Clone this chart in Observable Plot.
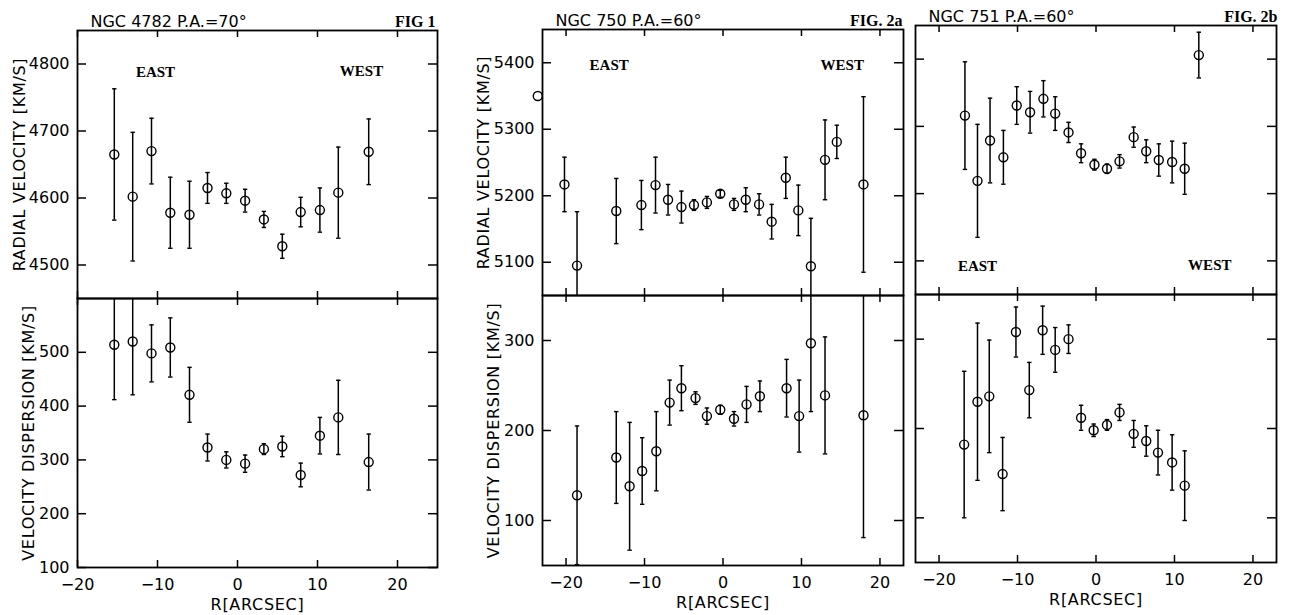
<!DOCTYPE html>
<html><head><meta charset="utf-8">
<script src="https://cdn.jsdelivr.net/npm/d3@7"></script>
<script src="https://cdn.jsdelivr.net/npm/@observablehq/plot@0.6"></script>
<style>
html,body{margin:0;padding:0;background:#fff;}
#chart{position:relative;width:1293px;height:615px;background:#fff;}
#chart svg{position:absolute;left:0;top:0;}
g[aria-label="y-axis label"] text, g[aria-label="x-axis label"] text{letter-spacing:0.7px;}
</style></head><body><div id="chart"></div>
<script>
// ---------- data: NGC 4782 ----------
const r4782 = [-15.4,-13.1,-10.75,-8.4,-6.0,-3.75,-1.4,0.95,3.3,5.6,7.9,10.3,12.6,16.4];
const vel4782 = [4665,4602,4670,4578,4575,4615,4607,4596,4568,4528,4579,4582,4608,4669];
const velErr4782 = [98,96,49,53,50,23,15,17,12,18,22,33,68,49];
const disp4782 = [514,520,498,509,421,323,300,293,320,325,272,345,379,296];
const dispErr4782 = [102,99,53,55,51,25,15,16,10,19,22,34,69,52];
// ---------- data: NGC 750 ----------
const rVel750 = [-20.2,-18.6,-13.6,-10.4,-8.6,-7.0,-5.3,-3.7,-2.05,-0.35,1.4,2.9,4.6,6.2,8.0,9.6,11.2,13.0,14.5,17.9];
const vel750 = [5217,5095,5177,5186,5216,5194,5183,5186,5190,5203,5187,5194,5187,5161,5227,5178,5094,5254,5281,5217];
const velErr750 = [41,81,49,37,42,23,24,8,9,5,9,18,16,26,31,38,72,60,25,132];
const strayR750 = [-23.6];
const strayV750 = [5350];
const rDisp750 = [-18.6,-13.6,-11.9,-10.3,-8.5,-6.8,-5.3,-3.5,-2.05,-0.35,1.4,3.0,4.7,8.1,9.7,11.2,13.0,17.9];
const disp750 = [128,170,138,155,177,231,247,236,216,223,213,229,238,247,216,297,239,217];
const dispErr750 = [77,51,71,37,44,25,25,7,9,5,8,20,17,32,40,76,65,136];
// ---------- data: NGC 751 ----------
const rVel751 = [-16.7,-15.1,-13.5,-11.8,-10.1,-8.4,-6.7,-5.2,-3.5,-1.9,-0.2,1.4,3.0,4.8,6.4,8.0,9.7,11.3,13.1];
const vel751 = [5316,5219,5279,5254,5331,5321,5341,5319,5291,5260,5243,5237,5248,5284,5263,5250,5247,5237,5406];
const velErr751 = [80,84,63,40,28,31,27,25,15,14,8,7,10,15,17,24,31,38,34];
const rDisp751 = [-16.8,-15.1,-13.6,-11.9,-10.2,-8.5,-6.8,-5.2,-3.5,-1.9,-0.3,1.4,3.0,4.8,6.4,7.9,9.7,11.3];
const disp751 = [182,230,236,149,308,243,310,288,300,212,198,204,218,194,186,173,162,136];
const dispErr751 = [82,88,63,41,28,31,27,25,16,14,7,6,9,15,17,25,31,39];
// ---------- ticks & labels ----------
const xTicks = [-20,-10,0,10,20];
const velTicks4782 = [4500,4600,4700,4800];
const dispTicks4782 = [100,200,300,400,500];
const velTicks75x = [5100,5200,5300,5400];
const dispTicks75x = [100,200,300];
const notes4782 = [{label:"EAST", r:-10.25, v:4788},{label:"WEST", r:15.5, v:4790}];
const notes750 = [{label:"EAST", r:-14.5, v:5397},{label:"WEST", r:15.2, v:5397}];
const notes751 = [{label:"EAST", r:-15.1, v:5092},{label:"WEST", r:14.5, v:5093}];

const rows = (rs, vs, es) => rs.map((r, i) => ({r, v: vs[i], e: es ? es[i] : 0}));
const W = 1293, H = 615;
const capSymbol = {draw(ctx, size) {const w = Math.sqrt(size / Math.PI); ctx.moveTo(-w, 0); ctx.lineTo(w, 0);}};

function panel(c) {
  const [l, t, r, b] = c.frame;
  const fw = r - l, fh = b - t;
  const data = c.data;
  const marks = [
    Plot.ruleX(data, {x: "r", y1: d => d.v - d.e, y2: d => d.v + d.e, stroke: "black", strokeWidth: 1.5, clip: true}),
    Plot.dot(data, {x: "r", y: d => d.v + d.e, r: 2.2, symbol: capSymbol, stroke: "black", fill: "none", strokeWidth: 1.4, clip: true}),
    Plot.dot(data, {x: "r", y: d => d.v - d.e, r: 2.2, symbol: capSymbol, stroke: "black", fill: "none", strokeWidth: 1.4, clip: true}),
    Plot.dot(data, {x: "r", y: "v", r: 4.5, stroke: "black", fill: "none", strokeWidth: 1.4, clip: true}),
    Plot.tickY(c.yTicks, {y: d => d, insetRight: fw - 9, stroke: "black", strokeWidth: 1.5}),
    Plot.tickY(c.yTicks, {y: d => d, insetLeft: fw - 9, stroke: "black", strokeWidth: 1.5}),
    Plot.tickX(xTicks, {x: d => d, insetTop: fh - 7, stroke: "black", strokeWidth: 1.5}),
    Plot.tickX(xTicks, {x: d => d, insetBottom: fh - 7, stroke: "black", strokeWidth: 1.5}),
    Plot.frame({stroke: "black", strokeWidth: 1.8})
  ];
  if (c.stray) marks.push(Plot.dot(c.stray, {x: "r", y: "v", r: 4.5, stroke: "black", fill: "none", strokeWidth: 1.4}));
  if (c.notes) marks.push(Plot.text(c.notes, {x: "r", y: "v", text: "label", fontFamily: "Liberation Serif", fontWeight: "bold", fontSize: 15, fill: "black"}));
  if (c.yLabel) marks.push(Plot.axisY(c.yTicks, {anchor: "left", tickSize: 0, tickPadding: 8, fontSize: 16, tickFormat: d => String(d), label: c.yLabel, labelAnchor: "center", labelArrow: "none", labelOffset: c.yLabelOffset}));
  if (c.xLabel) marks.push(Plot.axisX(xTicks, {anchor: "bottom", tickSize: 0, tickPadding: 11, fontSize: 16, label: "R[ARCSEC]", labelAnchor: "center", labelArrow: "none", labelOffset: 42}));
  if (c.title) {
    marks.push(Plot.text([c.title], {text: d => d, frameAnchor: "top-left", textAnchor: "start", lineAnchor: "bottom", dx: 13, dy: -4, fontSize: 16, fill: "black"}));
    marks.push(Plot.text([c.fig], {text: d => d, frameAnchor: "top-right", textAnchor: "end", lineAnchor: "bottom", dx: c.figDx, dy: -4, fontSize: 16, fontFamily: "Liberation Serif", fontWeight: "bold", fill: "black"}));
  }
  const svg = Plot.plot({
    width: W, height: H,
    marginLeft: l, marginRight: W - r, marginTop: t, marginBottom: H - b,
    x: {domain: c.xDomain, axis: null},
    y: {domain: c.yDomain, axis: null},
    style: {background: "transparent", overflow: "visible", fontFamily: "DejaVu Sans", fontSize: "16px", color: "black"},
    marks
  });
  document.getElementById("chart").appendChild(svg);
}

panel({frame: [77, 30, 437, 298], xDomain: [-20, 25], yDomain: [4450, 4850], yTicks: velTicks4782,
  data: rows(r4782, vel4782, velErr4782), notes: notes4782, yLabel: "RADIAL VELOCITY [KM/S]", yLabelOffset: 64,
  title: "NGC 4782 P.A.=70°", fig: "FIG 1", figDx: -2});
panel({frame: [77, 298, 437, 567], xDomain: [-20, 25], yDomain: [100, 600], yTicks: dispTicks4782,
  data: rows(r4782, disp4782, dispErr4782), yLabel: "VELOCITY DISPERSION [KM/S]", yLabelOffset: 55, xLabel: true});
panel({frame: [542, 29, 903, 295], xDomain: [-23, 23], yDomain: [5050, 5450], yTicks: velTicks75x,
  data: rows(rVel750, vel750, velErr750), stray: rows(strayR750, strayV750), notes: notes750,
  yLabel: "RADIAL VELOCITY [KM/S]", yLabelOffset: 65, title: "NGC 750 P.A.=60°", fig: "FIG. 2a", figDx: -1});
panel({frame: [542, 295, 903, 565], xDomain: [-23, 23], yDomain: [50, 350], yTicks: dispTicks75x,
  data: rows(rDisp750, disp750, dispErr750), yLabel: "VELOCITY DISPERSION [KM/S]", yLabelOffset: 55, xLabel: true});
panel({frame: [915, 25, 1276, 294], xDomain: [-23, 23], yDomain: [5050, 5450], yTicks: velTicks75x,
  data: rows(rVel751, vel751, velErr751), notes: notes751, title: "NGC 751 P.A.=60°", fig: "FIG. 2b", figDx: 1});
panel({frame: [915, 294, 1276, 562], xDomain: [-23, 23], yDomain: [50, 350], yTicks: dispTicks75x,
  data: rows(rDisp751, disp751, dispErr751), xLabel: true});
</script></body></html>
